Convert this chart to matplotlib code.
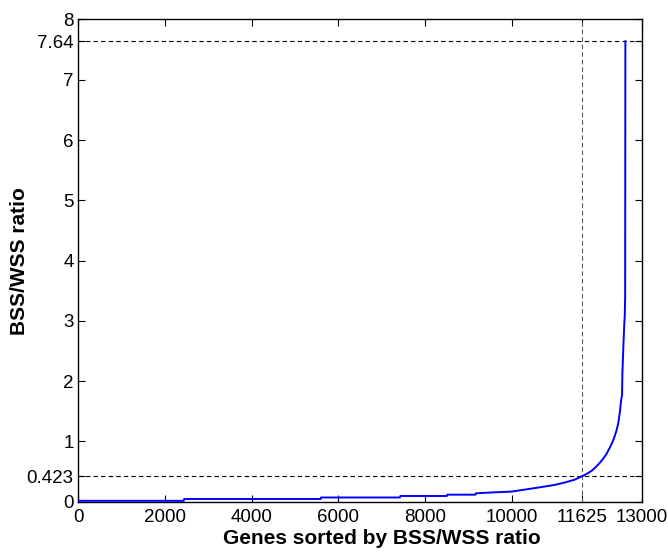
import numpy as np
import matplotlib
matplotlib.use("Agg")
from matplotlib import pyplot as plt

# sorted BSS/WSS ratios (rank -> ratio)
gene_rank = [0, 2430, 2440, 5590, 5600, 7420, 7430, 8505, 8515, 9165, 9175,
             9590, 10000, 10200, 10660, 11000, 11235, 11450, 11625, 11750,
             11850, 11950, 12040, 12120, 12195, 12260, 12325, 12370, 12420,
             12460, 12500, 12530, 12548, 12556, 12580, 12600, 12612, 12620,
             12625]
bss_wss = [0.015, 0.015, 0.045, 0.045, 0.07, 0.07, 0.095, 0.095, 0.117, 0.117,
           0.14, 0.155, 0.168, 0.19, 0.24, 0.28, 0.32, 0.365, 0.423, 0.47,
           0.515, 0.58, 0.65, 0.72, 0.80, 0.89, 0.985, 1.07, 1.18,
           1.30, 1.50, 1.70, 1.76, 2.12, 2.60, 2.95, 3.1, 3.4,
           7.64]

cut_rank = 11625
cut_ratio = 0.423
max_ratio = 7.64

xticks = [0, 2000, 4000, 6000, 8000, 10000, 11625, 13000]
yticks = [0, 0.423, 1, 2, 3, 4, 5, 6, 7, 7.64, 8]
ytick_labels = ["0", "0.423", "1", "2", "3", "4", "5", "6", "7", "7.64", "8"]

plt.rcParams['font.family'] = ['Liberation Sans', 'DejaVu Sans']

fig = plt.figure(figsize=(6.68, 5.52), dpi=100)
ax = fig.add_axes([0.1175, 0.0911, 0.843, 0.8736])

ax.plot(gene_rank, bss_wss, color=(0, 0, 1), lw=1.4, zorder=3)

# threshold guide lines
dash = (4, 2.8)
ax.axhline(cut_ratio, color="k", lw=0.8, ls=(0, dash), zorder=2)
ax.axhline(max_ratio, color="k", lw=0.8, ls=(0, dash), zorder=2)
ax.axvline(cut_rank, color="0.35", lw=0.8, ls=(0, dash), zorder=2)

ax.set_xlim(0, 13000)
ax.set_ylim(0, 8)
ax.set_xticks(xticks)
ax.set_xticklabels([str(t) for t in xticks])
ax.set_yticks(yticks)
ax.set_yticklabels(ytick_labels)

ax.tick_params(direction="in", top=True, right=True, length=5, width=0.8,
               labelsize=13.5)
ax.tick_params(axis="x", pad=5.5)
ax.tick_params(axis="y", pad=3.5)
for s in ax.spines.values():
    s.set_linewidth(1.0)

ax.set_xlabel("Genes sorted by BSS/WSS ratio", fontsize=15, fontweight="bold")
ax.set_ylabel("BSS/WSS ratio", fontsize=15, fontweight="bold")
ax.xaxis.label.set_va("center")
ax.yaxis.label.set_va("center")
ax.xaxis.set_label_coords(0.539, -0.0753)
ax.yaxis.set_label_coords(-0.104, 0.5)

fig.savefig("out.png", dpi=100)
